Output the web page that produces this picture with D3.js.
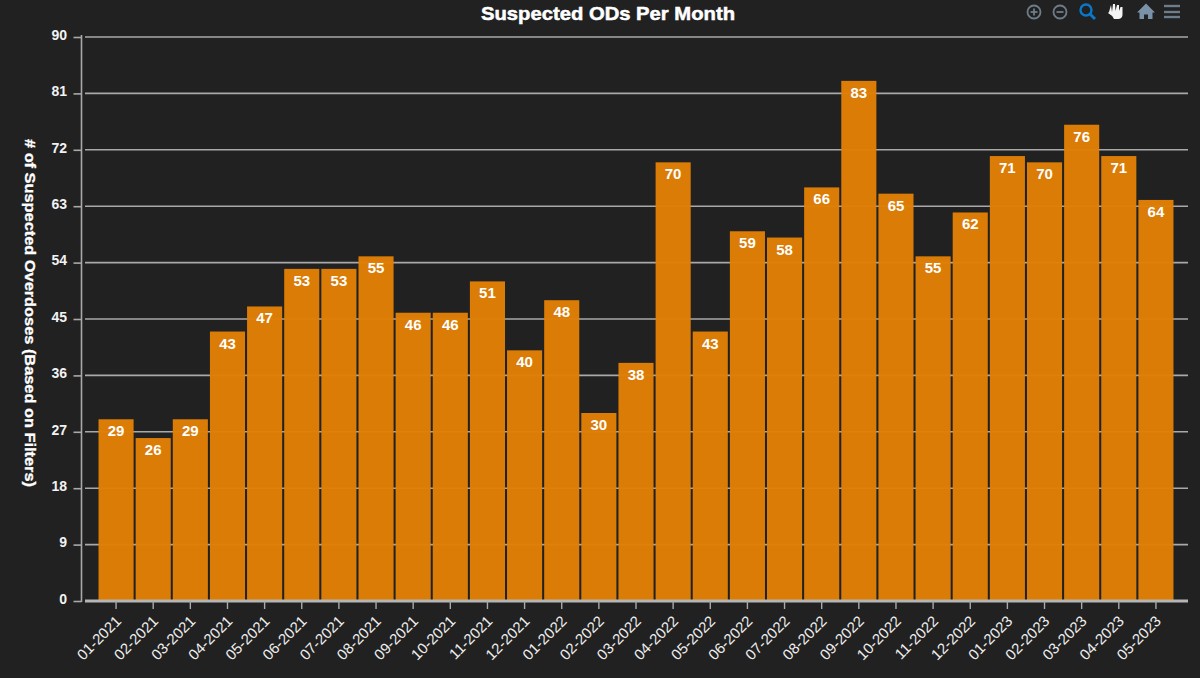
<!DOCTYPE html>
<html><head><meta charset="utf-8">
<script src="https://cdn.jsdelivr.net/npm/d3@7"></script>
<style>html,body{margin:0;padding:0;background:#212121;overflow:hidden}svg{display:block}text{font-family:"Liberation Sans",Arial,sans-serif}</style>
</head><body><svg id="c" width="1200" height="678"></svg>
<script>
const months=["01-2021","02-2021","03-2021","04-2021","05-2021","06-2021","07-2021","08-2021","09-2021","10-2021","11-2021","12-2021","01-2022","02-2022","03-2022","04-2022","05-2022","06-2022","07-2022","08-2022","09-2022","10-2022","11-2022","12-2022","01-2023","02-2023","03-2023","04-2023","05-2023"];
const counts=[29,26,29,43,47,53,53,55,46,46,51,40,48,30,38,70,43,59,58,66,83,65,55,62,71,70,76,71,64];
const yTicks=[0,9,18,27,36,45,54,63,72,81,90];
const titleText="Suspected ODs Per Month";
const yTitle="# of Suspected Overdoses (Based on Filters)";

const svg=d3.select("#c");
const x=d3.scaleBand().domain(months).range([97.4,1174.6]).paddingInner(0.055).paddingOuter(0.03);
const y=d3.scaleLinear().domain([0,90]).range([601,37]);

svg.append("rect").attr("width",1200).attr("height",678).attr("fill","#212121");

svg.append("g").selectAll("line").data(yTicks.slice(1)).join("line")
 .attr("x1",85).attr("x2",1188).attr("y1",d=>y(d)).attr("y2",d=>y(d))
 .attr("stroke","#a9a9a9").attr("stroke-width",1.6);

svg.append("g").selectAll("rect").data(counts).join("rect")
 .attr("x",(d,i)=>x(months[i])).attr("width",x.bandwidth())
 .attr("y",d=>y(d)).attr("height",d=>y(0)-y(d))
 .attr("fill","#e07f05").attr("fill-opacity",0.97);

const ya=svg.append("g").attr("transform","translate(81.5,0)").call(d3.axisLeft(y).tickValues(yTicks).tickSize(8).tickPadding(6));
ya.select(".domain").attr("stroke","#a9a9a9").attr("stroke-width",1.6).attr("d","M0,35V602");
ya.selectAll(".tick line").attr("stroke","#a9a9a9").attr("stroke-width",1.6);
ya.selectAll("text").attr("fill","#f2f2f2").attr("font-size",14).attr("font-weight",700).attr("dy","0").attr("x",-14.5).attr("y",-1.5).style("dominant-baseline","middle");

const xa=svg.append("g").attr("transform","translate(0,601)").call(d3.axisBottom(x).tickSize(8));
xa.select(".domain").attr("stroke","#b5b5b5").attr("stroke-width",3).attr("d","M85,0H1188");
xa.selectAll(".tick line").attr("stroke","#a9a9a9").attr("stroke-width",1.4);
xa.selectAll("text").attr("fill","#eeeeee").attr("font-size",15).attr("font-weight",400)
 .attr("text-anchor","end").attr("dy",0).attr("y",0)
 .attr("transform","translate(6,21) rotate(-45)");

svg.append("g").selectAll("text").data(counts).join("text")
 .attr("x",(d,i)=>x(months[i])+x.bandwidth()/2).attr("y",d=>y(d)+17)
 .attr("text-anchor","middle").attr("fill","#fff").attr("font-size",15).attr("font-weight",700)
 .text(d=>d);

svg.append("text").attr("x",608).attr("y",20).attr("text-anchor","middle")
 .attr("fill","#fff").attr("font-size",19).attr("font-weight",700).attr("stroke","#fff").attr("stroke-width",0.5)
 .attr("textLength",254).attr("lengthAdjust","spacingAndGlyphs").text(titleText);
svg.append("text").attr("transform","translate(25,313) rotate(90)").attr("text-anchor","middle")
 .attr("fill","#fff").attr("font-size",14).attr("font-weight",700).attr("stroke","#fff").attr("stroke-width",0.3)
 .attr("textLength",348).attr("lengthAdjust","spacingAndGlyphs").text(yTitle);

const tb=svg.append("g");
function ring(cx,col){tb.append("circle").attr("cx",cx).attr("cy",12).attr("r",6.5).attr("fill","none").attr("stroke",col).attr("stroke-width",1.8);
 tb.append("line").attr("x1",cx-3.5).attr("x2",cx+3.5).attr("y1",12).attr("y2",12).attr("stroke",col).attr("stroke-width",1.8);}
ring(1034,"#6e7d8a");
tb.append("line").attr("x1",1034).attr("x2",1034).attr("y1",8.5).attr("y2",15.5).attr("stroke","#6e7d8a").attr("stroke-width",1.8);
ring(1060,"#6e7d8a");
tb.append("circle").attr("cx",1086).attr("cy",10).attr("r",5.5).attr("fill","none").attr("stroke","#0a78c8").attr("stroke-width",2.4);
tb.append("line").attr("x1",1090).attr("y1",14).attr("x2",1095).attr("y2",19).attr("stroke","#0a78c8").attr("stroke-width",3);
tb.append("path").attr("fill","#f4f4f4").attr("d","M1109,12 L1111,5 L1112,12 L1113,4 L1115,4 L1115.5,11 L1117,5 L1119,5 L1119,11 L1120.5,7 L1122.5,7 L1122.5,15 Q1122,19 1118,19 L1114,19 Q1112,15 1108,13 Z");
tb.append("path").attr("fill","#7a92a8").attr("d","M1146,3.5 L1155,12.5 L1152.5,12.5 L1152.5,19 L1148,19 L1148,14.5 L1144,14.5 L1144,19 L1139.5,19 L1139.5,12.5 L1137,12.5 Z");
[6,12,17].forEach(v=>tb.append("line").attr("x1",1164).attr("x2",1180).attr("y1",v).attr("y2",v).attr("stroke","#6e7d8a").attr("stroke-width",2.4));
</script></body></html>
